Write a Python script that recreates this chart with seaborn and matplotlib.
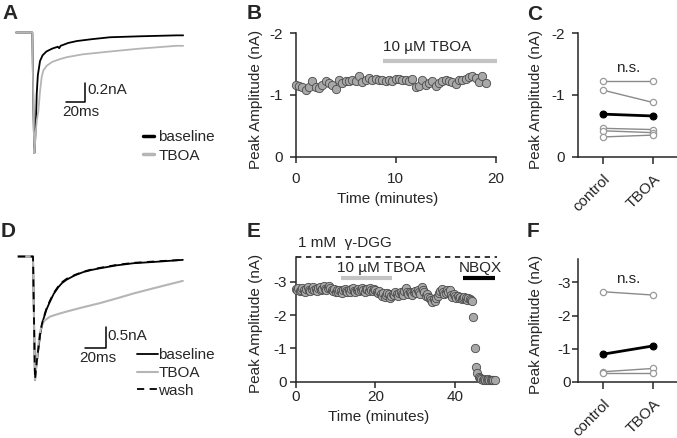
import numpy as np
import matplotlib
matplotlib.use('Agg')
import matplotlib.pyplot as plt
import seaborn as sns

sns.set_style('ticks')
plt.rcParams['font.family'] = ['Liberation Sans', 'DejaVu Sans']
plt.rcParams['axes.unicode_minus'] = False
plt.rcParams['font.size'] = 11
plt.rcParams['axes.linewidth'] = 1.1

# ---- data ----
# A: example traces (ms, nA)
a_base_t = [0, 17.2, 18.3, 19.3, 20.2, 21.0, 21.8, 23.0, 25.3, 28.0, 32.0, 38.0, 44.0, 45.5, 47.0, 55.0, 64.0, 80.0, 99.0, 130.0, 169.0, 176.0]
a_base_i = [0, 0, -0.8, -1.27, -1.12, -0.95, -0.65, -0.45, -0.30, -0.24, -0.20, -0.17, -0.15, -0.165, -0.14, -0.11, -0.09, -0.07, -0.05, -0.04, -0.03, -0.03]
a_tboa_t = [0, 17.2, 18.3, 19.3, 20.2, 21.0, 22.0, 23.5, 25.3, 27.0, 28.8, 32.3, 38.0, 46.3, 53.4, 70.0, 99.0, 130.0, 169.0, 176.0]
a_tboa_i = [0, 0, -0.8, -1.27, -1.15, -1.02, -0.92, -0.83, -0.62, -0.47, -0.40, -0.35, -0.31, -0.28, -0.26, -0.23, -0.20, -0.17, -0.14, -0.14]

# B: peak amplitude time course, one sweep every 20 s
b_amp = [-1.16, -1.14, -1.13, -1.08, -1.13, -1.22, -1.13, -1.12, -1.16, -1.22,
         -1.20, -1.16, -1.09, -1.25, -1.20, -1.22, -1.23, -1.24, -1.23, -1.30,
         -1.21, -1.24, -1.27, -1.24, -1.26, -1.24, -1.25, -1.23, -1.25, -1.22,
         -1.26, -1.26, -1.25, -1.24, -1.22, -1.26, -1.13, -1.14, -1.24, -1.16,
         -1.20, -1.22, -1.15, -1.20, -1.23, -1.24, -1.22, -1.21, -1.18, -1.25,
         -1.25, -1.26, -1.29, -1.31, -1.28, -1.21, -1.30, -1.19]
b_time = np.arange(len(b_amp)) / 3.0

# C: paired cells, control vs TBOA
conditions = ['control', 'TBOA']
c_cells = [[-1.23, -1.23], [-1.08, -0.88], [-0.46, -0.44], [-0.42, -0.39], [-0.32, -0.35]]
c_mean = [-0.69, -0.66]

# D: example traces in gamma-DGG (ms, nA)
d_base_t = [0, 14.3, 15.3, 16.2, 17.5, 19.3, 21.0, 22.6, 24.1, 27.0, 30.5, 34.0, 38.4, 42.0, 46.4, 54.0, 62.2, 70.0, 78.0, 94.0, 110.0, 135.0, 157.0]
d_base_i = [0, 0, -1.6, -2.94, -2.6, -2.23, -1.88, -1.66, -1.50, -1.27, -1.07, -0.89, -0.73, -0.63, -0.55, -0.45, -0.37, -0.32, -0.28, -0.21, -0.16, -0.12, -0.08]
d_tboa_t = [0, 14.3, 15.3, 16.2, 17.5, 19.0, 20.5, 22.6, 25.0, 30.5, 38.0, 46.4, 60.0, 78.0, 95.0, 110.0, 130.0, 157.0]
d_tboa_i = [0, 0, -1.6, -2.94, -2.6, -2.2, -1.85, -1.65, -1.53, -1.43, -1.37, -1.31, -1.22, -1.11, -0.99, -0.88, -0.75, -0.58]
d_wash_t = [0, 14.3, 15.3, 16.2, 17.5, 19.3, 21.0, 22.6, 24.1, 27.0, 30.5, 34.0, 38.4, 42.0, 46.4, 54.0, 62.2, 70.0, 78.0, 94.0, 110.0, 135.0, 157.0]
d_wash_i = [0, 0, -1.6, -2.92, -2.58, -2.20, -1.85, -1.63, -1.48, -1.25, -1.05, -0.87, -0.71, -0.61, -0.53, -0.44, -0.36, -0.31, -0.27, -0.20, -0.15, -0.11, -0.08]

# E: time course in gamma-DGG, one sweep every 20 s
e_amp = [-2.78, -2.74, -2.80, -2.72, -2.76, -2.82, -2.75, -2.70, -2.78, -2.84,
         -2.76, -2.72, -2.79, -2.85, -2.74, -2.77, -2.71, -2.80, -2.83, -2.76,
         -2.79, -2.86, -2.78, -2.74, -2.81, -2.87, -2.80, -2.76, -2.72, -2.78,
         -2.70, -2.74, -2.68, -2.76, -2.72, -2.66, -2.75, -2.79, -2.71, -2.68,
         -2.74, -2.70, -2.77, -2.80, -2.73, -2.69, -2.75, -2.78, -2.72, -2.76,
         -2.81, -2.74, -2.70, -2.77, -2.79, -2.73, -2.80, -2.76, -2.72, -2.78,
         -2.75, -2.70, -2.66, -2.72, -2.62, -2.58, -2.65, -2.55, -2.60, -2.67,
         -2.62, -2.52, -2.58, -2.64, -2.60, -2.68, -2.62, -2.57, -2.66, -2.70,
         -2.63, -2.59, -2.72, -2.80, -2.68, -2.64, -2.70, -2.66, -2.61, -2.68,
         -2.72, -2.66, -2.74, -2.70, -2.64, -2.83, -2.76, -2.68, -2.58, -2.62,
         -2.55, -2.50, -2.44, -2.40, -2.47, -2.42, -2.52, -2.58, -2.66, -2.72,
         -2.78, -2.70, -2.62, -2.66, -2.74, -2.68, -2.76, -2.60, -2.55, -2.62,
         -2.56, -2.52, -2.58, -2.50, -2.54, -2.48, -2.52, -2.55, -2.50, -2.46,
         -2.52, -2.48, -2.45, -2.42, -1.93, -1.00, -0.45, -0.27, -0.15, -0.10,
         -0.07, -0.05, -0.08, -0.06, -0.05, -0.07, -0.04, -0.06, -0.05, -0.06,
         -0.05]
e_time = np.arange(len(e_amp)) / 3.0

# F: paired cells in gamma-DGG
f_cells = [[-2.72, -2.62], [-0.30, -0.40], [-0.25, -0.25]]
f_mean = [-0.83, -1.08]

GRAY = '#b5b5b5'
DOT_FACE = '#a8a8a8'
DOT_EDGE = '#4a4a4a'

W, H = 677, 438
fig = plt.figure(figsize=(W / 100, H / 100), dpi=100)


def px_axes(left, top, right, bottom):
    return fig.add_axes([left / W, 1 - bottom / H, (right - left) / W, (bottom - top) / H])


def fig_text(x, y, s, **kw):
    fig.text(x / W, 1 - y / H, s, **kw)


# ---------- A ----------
axA = px_axes(14, 25, 190, 160)
sns.lineplot(x=a_base_t, y=a_base_i, ax=axA, color='k', lw=1.3, estimator=None, sort=False, label='baseline')
sns.lineplot(x=a_tboa_t, y=a_tboa_i, ax=axA, color=GRAY, lw=1.3, estimator=None, sort=False, label='TBOA')
axA.set_xlim(-2.1, 183.2)
axA.set_ylim(-1.342, 0.079)
axA.axis('off')
axA.plot([52.6, 72.6, 72.6], [-0.728, -0.728, -0.528], color='k', lw=1.1)
axA.text(75.0, -0.61, '0.2nA', ha='left', va='center')
axA.text(49.0, -0.76, '20ms', ha='left', va='top')
legA = axA.legend(loc='center left', bbox_to_anchor=(143 / W, 1 - 146.5 / H), bbox_transform=fig.transFigure,
                  frameon=False, handlelength=0.7, handletextpad=0.3, borderpad=0, borderaxespad=0,
                  labelspacing=0.3)
for line in legA.get_lines():
    line.set_linewidth(2.5)

# ---------- B ----------
axB = px_axes(295.7, 33.3, 495.7, 156.7)
sns.scatterplot(x=b_time, y=b_amp, ax=axB, s=36, color=DOT_FACE, edgecolor=DOT_EDGE, linewidth=0.6,
                clip_on=False, zorder=3)
axB.set_xlim(0, 20)
axB.set_ylim(0, -2)
axB.set_xticks([0, 10, 20])
axB.set_yticks([0, -1, -2])
axB.tick_params(axis='x', length=4, width=1.1, pad=7)
axB.tick_params(axis='y', length=4, width=1.1, pad=5)
axB.set_xlabel('Time (minutes)')
axB.set_ylabel('Peak Amplitude (nA)')
axB.xaxis.set_label_coords(0.46, -0.29)
axB.yaxis.set_label_coords(-0.165, 0.46)
axB.plot([8.7, 20.1], [-1.55, -1.55], color='#c4c4c4', lw=3, solid_capstyle='butt', clip_on=False)
axB.text(8.7, -1.78, '10 µM TBOA', ha='left', va='center')
sns.despine(ax=axB)

# ---------- C ----------
axC = px_axes(578.3, 33.3, 676.7, 156.7)
for cell in c_cells:
    sns.lineplot(x=[0, 1], y=cell, ax=axC, color='#8a8a8a', lw=1, marker='o', markersize=4.5,
                 markerfacecolor='white', markeredgecolor='#9a9a9a', markeredgewidth=0.9,
                 estimator=None, clip_on=False)
sns.lineplot(x=[0, 1], y=c_mean, ax=axC, color='k', lw=2, marker='o', markersize=5,
             markerfacecolor='k', markeredgecolor='k', estimator=None, clip_on=False)
axC.set_xlim(-0.488, 1.48)
axC.set_ylim(0, -2)
axC.set_xticks([0, 1])
axC.set_xticklabels(conditions, rotation=45, ha='right', rotation_mode='anchor')
axC.set_yticks([0, -1, -2])
axC.tick_params(axis='x', length=5, width=1.1, pad=6)
axC.tick_params(axis='y', length=4, width=1.1, pad=6)
axC.set_xlabel('')
axC.set_ylabel('Peak Amplitude (nA)')
axC.yaxis.set_label_coords(-0.36, 0.46)
axC.text(0.5, -1.43, 'n.s.', ha='center', va='center')
sns.despine(ax=axC)

# ---------- D ----------
axD = px_axes(14, 245, 190, 395)
sns.lineplot(x=d_base_t, y=d_base_i, ax=axD, color='k', lw=1.3, estimator=None, sort=False, label='baseline')
sns.lineplot(x=d_tboa_t, y=d_tboa_i, ax=axD, color=GRAY, lw=1.5, estimator=None, sort=False, label='TBOA')
sns.lineplot(x=d_wash_t, y=d_wash_i, ax=axD, color='k', lw=1.3, linestyle=(0, (4, 3)), estimator=None,
             sort=False, label='wash')
axD.set_xlim(-3.8, 163.8)
axD.set_ylim(-3.297, 0.274)
axD.axis('off')
axD.plot([63.8, 83.8, 83.8], [-2.186, -2.186, -1.686], color='k', lw=1.1)
axD.text(85.2, -1.9, '0.5nA', ha='left', va='center')
axD.text(58.5, -2.26, '20ms', ha='left', va='top')
legD = axD.legend(loc='center left', bbox_to_anchor=(137 / W, 1 - 373 / H), bbox_transform=fig.transFigure,
                  frameon=False, handlelength=1.4, handletextpad=0.0, borderpad=0, borderaxespad=0,
                  labelspacing=0.25)

# ---------- E ----------
axE = px_axes(295.7, 256.7, 496.7, 381.7)
sns.scatterplot(x=e_time, y=e_amp, ax=axE, s=36, color=DOT_FACE, edgecolor=DOT_EDGE, linewidth=0.6,
                clip_on=False, zorder=3)
axE.set_xlim(0, 50.5)
axE.set_ylim(0, -3.75)
axE.set_xticks([0, 20, 40])
axE.set_yticks([0, -1, -2, -3])
axE.tick_params(axis='x', length=4, width=1.1, pad=2)
axE.tick_params(axis='y', length=4, width=1.1, pad=2)
axE.set_xlabel('Time (minutes)')
axE.set_ylabel('Peak Amplitude (nA)')
axE.xaxis.set_label_coords(0.415, -0.23)
axE.yaxis.set_label_coords(-0.163, 0.47)
axE.axhline(-3.75, color='k', lw=1.1, linestyle=(0, (3.5, 3)), clip_on=False)
axE.text(0.6, -4.17, '1 mM  γ-DGG', ha='left', va='center')
axE.plot([11.4, 24.1], [-3.12, -3.12], color='#c4c4c4', lw=3, solid_capstyle='butt', clip_on=False)
axE.text(10.3, -3.42, '10 µM TBOA', ha='left', va='center')
axE.plot([42.1, 50.1], [-3.1, -3.1], color='k', lw=3, solid_capstyle='butt', clip_on=False)
axE.text(46.3, -3.40, 'NBQX', ha='center', va='center')
sns.despine(ax=axE)

# ---------- F ----------
axF = px_axes(578.3, 259.3, 676.7, 381.7)
for cell in f_cells:
    sns.lineplot(x=[0, 1], y=cell, ax=axF, color='#8a8a8a', lw=1, marker='o', markersize=4.5,
                 markerfacecolor='white', markeredgecolor='#9a9a9a', markeredgewidth=0.9,
                 estimator=None, clip_on=False)
sns.lineplot(x=[0, 1], y=f_mean, ax=axF, color='k', lw=2, marker='o', markersize=5,
             markerfacecolor='k', markeredgecolor='k', estimator=None, clip_on=False)
axF.set_xlim(-0.488, 1.48)
axF.set_ylim(0, -3.7)
axF.set_xticks([0, 1])
axF.set_xticklabels(conditions, rotation=45, ha='right', rotation_mode='anchor')
axF.set_yticks([0, -1, -2, -3])
axF.tick_params(axis='x', length=5, width=1.1, pad=6)
axF.tick_params(axis='y', length=4, width=1.1, pad=1)
axF.set_xlabel('')
axF.set_ylabel('Peak Amplitude (nA)')
axF.yaxis.set_label_coords(-0.36, 0.47)
axF.text(0.5, -3.1, 'n.s.', ha='center', va='center')
sns.despine(ax=axF)

# panel letters
for letter, x, y in [('A', 2, 4), ('B', 247, 4), ('C', 527, 5), ('D', 1, 222), ('E', 247, 222), ('F', 527, 222)]:
    fig_text(x, y, letter, fontsize=15, fontweight='bold', va='top', ha='left')

fig.savefig('out.png', dpi=100)
